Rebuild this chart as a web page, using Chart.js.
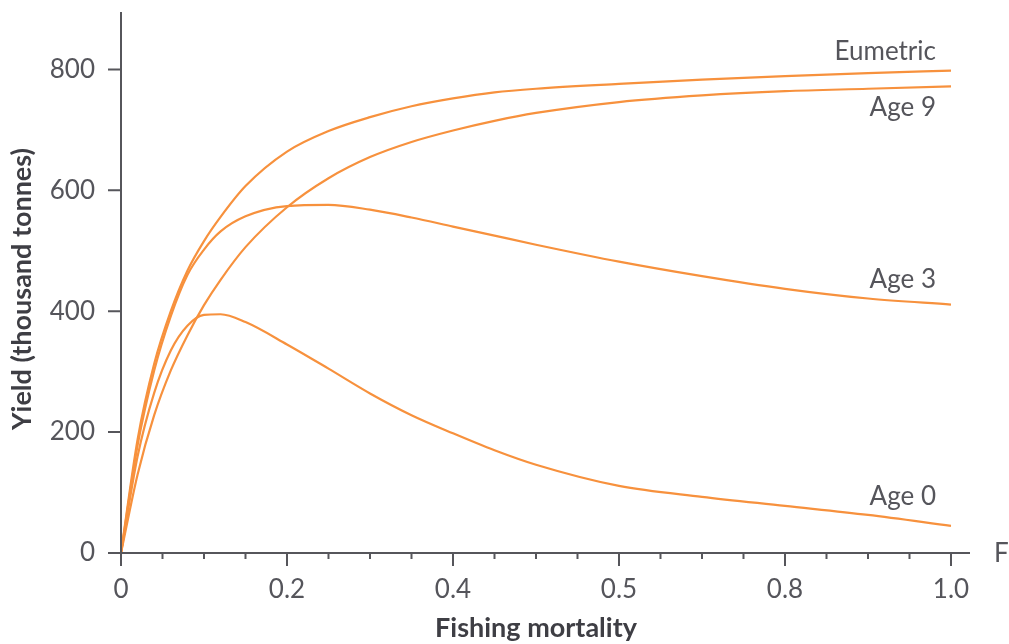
<!DOCTYPE html>
<html>
<head>
<meta charset="utf-8">
<script src="https://cdn.jsdelivr.net/npm/chart.js@4/dist/chart.umd.min.js"></script>
<style>
  body { margin: 0; background: #fff; }
  canvas { display: block; }
</style>
</head>
<body>
<canvas id="myChart" width="1009" height="644"></canvas>
<script>
// fishing mortality grid (F) and yield per curve (thousand tonnes)
const fValues   = [0, 0.02, 0.04, 0.06, 0.08, 0.1, 0.12, 0.15, 0.2, 0.25, 0.3, 0.35, 0.4, 0.45, 0.5, 0.6, 0.7, 0.8, 0.9, 1.0];
const eumetric  = [0, 188, 313, 400, 467, 516, 556, 607, 664, 698, 721, 739, 752, 762, 768, 776, 783, 789, 794, 798];
const age9      = [0, 130, 228, 302, 360, 410, 452, 506, 572, 620, 655, 680, 699, 715, 728, 746, 757, 764, 768, 772];
const age3      = [0, 178, 302, 392, 460, 502, 532, 557, 574, 576, 568, 555, 540, 525, 510, 482, 458, 437, 421, 411];
const age0      = [0, 160, 265, 335, 376, 394, 395, 382, 345, 305, 264, 228, 198, 170, 146, 111, 93, 78, 63, 45];

const seriesNames = ["Eumetric", "Age 9", "Age 3", "Age 0"];
const xTickValues = [0, 0.2, 0.4, 0.6, 0.8, 1.0];
const xTickLabels = ["0", "0.2", "0.4", "0.5", "0.8", "1.0"];
const yTickValues = [0, 200, 400, 600, 800];

const ORANGE = "#f7913d";
const AXIS = "#56565b";
const TEXT = "#55555b";
const FONT = "Lato";

function toPoints(ys) {
  return fValues.map((f, i) => ({ x: f, y: ys[i] }));
}

// drop the label overflow padding so the plot box lands where the axes are
function fixBox(s, w, h) {
  if (w) s.width = w;
  if (h) s.height = h;
  s.paddingTop = 0;
  s.paddingBottom = 0;
  s.paddingLeft = 0;
  s.paddingRight = 0;
}

// axes, ticks and text labels drawn on top
const axisPlugin = {
  id: "axisPlugin",
  afterDraw(chart) {
    const ctx = chart.ctx;
    const xs = chart.scales.x;
    const ys = chart.scales.y;
    const area = chart.chartArea;
    const x0 = xs.getPixelForValue(0);
    const y0 = ys.getPixelForValue(0);
    ctx.save();
    ctx.strokeStyle = AXIS;
    ctx.lineWidth = 2;
    ctx.beginPath();
    ctx.moveTo(x0, area.top);
    ctx.lineTo(x0, y0);
    ctx.moveTo(x0 - 13, y0);
    ctx.lineTo(area.right, y0);
    yTickValues.forEach(v => {
      const py = ys.getPixelForValue(v);
      ctx.moveTo(x0 - 13, py);
      ctx.lineTo(x0, py);
    });
    for (let i = 0; i <= 20; i++) {
      const px = xs.getPixelForValue(i * 0.05);
      const len = i % 4 === 0 ? 13 : 6;
      ctx.moveTo(px, y0);
      ctx.lineTo(px, y0 + len);
    }
    ctx.stroke();

    // curve labels, anchored to the curve end points
    ctx.fillStyle = TEXT;
    ctx.font = "400 26px " + FONT;
    ctx.textAlign = "right";
    ctx.textBaseline = "middle";
    const endX = xs.getPixelForValue(1.0) - 15;
    const ends = [eumetric, age9, age3, age0].map(s => ys.getPixelForValue(s[s.length - 1]));
    const offsets = [-19, 21, -25, -29];
    seriesNames.forEach((name, i) => ctx.fillText(name, endX, ends[i] + offsets[i]));

    ctx.textAlign = "left";
    ctx.fillText("F", area.right + 24, y0 + 1);

    // axis titles
    ctx.font = "700 27px " + FONT;
    ctx.fillStyle = "#3e3e44";
    ctx.textAlign = "center";
    ctx.fillText("Fishing mortality", (x0 + xs.getPixelForValue(1.0)) / 2, 628);
    ctx.translate(22, 289);
    ctx.rotate(-Math.PI / 2);
    ctx.fillText("Yield (thousand tonnes)", 0, 0);
    ctx.restore();
  }
};

const datasets = [eumetric, age9, age3, age0].map((s, i) => ({
  label: seriesNames[i],
  data: toPoints(s),
  borderColor: ORANGE,
  borderWidth: 2.2,
  pointRadius: 0,
  fill: false,
  cubicInterpolationMode: "monotone"
}));

new Chart(document.getElementById("myChart"), {
  type: "line",
  data: { datasets: datasets },
  options: {
    responsive: false,
    animation: false,
    layout: { padding: { top: 12, right: 39, left: 0, bottom: 0 } },
    plugins: { legend: { display: false }, tooltip: { enabled: false } },
    scales: {
      x: {
        type: "linear",
        min: 0,
        max: 1.0229,
        afterFit: s => fixBox(s, 0, 91),
        border: { display: false },
        grid: { drawOnChartArea: false, drawTicks: true, tickLength: 13, color: "rgba(0,0,0,0)" },
        ticks: {
          stepSize: 0.2,
          includeBounds: false,
          autoSkip: false,
          maxRotation: 0,
          padding: 8,
          color: TEXT,
          font: { family: FONT, size: 26 },
          callback: v => {
            const i = xTickValues.findIndex(t => Math.abs(t - v) < 1e-6);
            return i >= 0 ? xTickLabels[i] : "";
          }
        }
      },
      y: {
        min: 0,
        max: 895,
        afterFit: s => fixBox(s, 121, 0),
        border: { display: false },
        grid: { drawOnChartArea: false, drawTicks: true, tickLength: 13, color: "rgba(0,0,0,0)" },
        ticks: {
          stepSize: 200,
          includeBounds: false,
          padding: 13,
          color: TEXT,
          font: { family: FONT, size: 26 }
        }
      }
    }
  },
  plugins: [axisPlugin]
});
</script>
</body>
</html>
